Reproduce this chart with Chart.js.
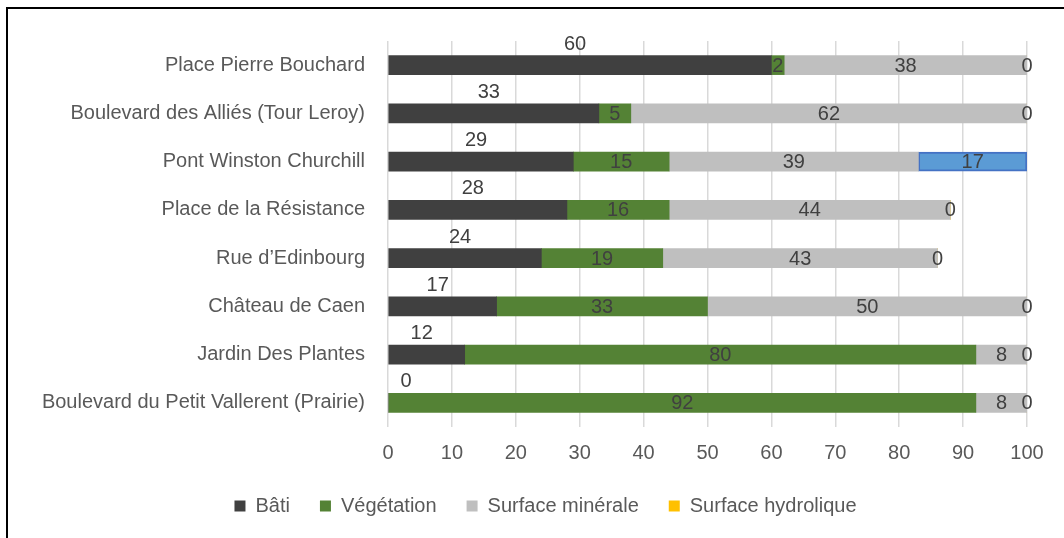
<!DOCTYPE html>
<html>
<head>
<meta charset="utf-8">
<script src="https://cdn.jsdelivr.net/npm/chart.js@4.4.0/dist/chart.umd.min.js"></script>
<style>
  html, body { margin: 0; padding: 0; background: #fff; overflow: hidden; }
  #wrap { position: relative; width: 1064px; height: 538px; }
  #frame { position: absolute; left: 6px; top: 7px; width: 1100px; height: 600px; border: 2px solid #000; pointer-events: none; }
  canvas { position: absolute; left: 0; top: 0; }
</style>
</head>
<body>
<div id="wrap">
  <canvas id="chart" width="1064" height="538"></canvas>
  <div id="frame"></div>
</div>
<script>
/***** DONNÉES *****/
const categories = [
  "Place Pierre Bouchard",
  "Boulevard des Alliés (Tour Leroy)",
  "Pont Winston Churchill",
  "Place de la Résistance",
  "Rue d’Edinbourg",
  "Château de Caen",
  "Jardin Des Plantes",
  "Boulevard du Petit Vallerent (Prairie)"
];
const seriesNames = ["Bâti", "Végétation", "Surface minérale", "Surface hydrolique"];
const bati       = [60, 33, 29, 28, 24, 17, 12, 0];
const vegetation = [2, 5, 15, 16, 19, 33, 80, 92];
const minerale   = [38, 62, 39, 44, 43, 50, 8, 8];
const hydrolique = [0, 0, 17, 0, 0, 0, 0, 0];
const xTicks     = [0, 10, 20, 30, 40, 50, 60, 70, 80, 90, 100];

/***** STYLE *****/
const FONT = '"Liberation Sans", Arial, sans-serif';
const TXT  = "#595959";
const hydroFill   = hydrolique.map((v, i) => i === 2 ? "#5B9BD5" : "#FFC000");
const hydroBorder = hydrolique.map((v, i) => i === 2 ? "#4472C4" : "#FFC000");
const hydroBw     = hydrolique.map((v, i) => i === 2 ? 2 : 0);

// étiquettes de valeurs (Bâti au-dessus de la barre, les autres au centre)
const barLabels = {
  id: "barLabels",
  afterDatasetsDraw(chart){
    const ctx = chart.ctx;
    ctx.save();
    ctx.font = "20px " + FONT;
    ctx.fillStyle = "#404040";
    ctx.textAlign = "center";
    ctx.textBaseline = "middle";
    chart.data.datasets.forEach((ds, i) => {
      chart.getDatasetMeta(i).data.forEach((bar, j) => {
        const mid = (bar.x + bar.base) / 2;
        if (i === 0){
          ctx.fillText(String(ds.data[j]), Math.max(mid - 5, bar.base + 18), bar.y - 21);
        } else {
          ctx.fillText(String(ds.data[j]), mid, bar.y + 1);
        }
      });
    });
    ctx.restore();
  }
};

// la légende est centrée un peu plus à droite que le canvas
const legendShift = {
  id: "legendShift",
  afterLayout(chart){
    const lg = chart.legend;
    if (lg){ lg.left += 32; lg.right += 32; }
  }
};

const mk = (label, data, color) => ({
  label, data, backgroundColor: color, borderWidth: 0, barThickness: 19
});

new Chart(document.getElementById("chart"), {
  type: "bar",
  data: {
    labels: categories,
    datasets: [
      mk(seriesNames[0], bati, "#404040"),
      mk(seriesNames[1], vegetation, "#548235"),
      mk(seriesNames[2], minerale, "#BFBFBF"),
      { label: seriesNames[3], data: hydrolique, backgroundColor: hydroFill,
        borderColor: hydroBorder, borderWidth: hydroBw, borderSkipped: false, barThickness: 19 }
    ]
  },
  plugins: [barLabels, legendShift],
  options: {
    indexAxis: "y",
    responsive: false,
    animation: false,
    layout: { padding: { top: 41, right: 37, left: 0, bottom: 12 } },
    plugins: {
      tooltip: { enabled: false },
      legend: {
        position: "bottom",
        labels: { boxWidth: 11, boxHeight: 11, padding: 30, color: TXT, font: { family: FONT, size: 20 } }
      }
    },
    scales: {
      x: {
        stacked: true, min: 0, max: 100,
        afterBuildTicks: s => { s.ticks = xTicks.map(v => ({ value: v })); },
        afterFit: s => { s.height = 39; },
        ticks: { color: TXT, padding: 14, font: { family: FONT, size: 20 } },
        grid: { color: "#D9D9D9", lineWidth: 1.5, drawTicks: false },
        border: { display: false }
      },
      y: {
        stacked: true,
        afterFit: s => { s.width = 388; },
        ticks: { color: TXT, padding: 23, font: { family: FONT, size: 20 } },
        grid: { display: false, drawTicks: false },
        border: { display: false }
      }
    }
  }
});
</script>
</body>
</html>
